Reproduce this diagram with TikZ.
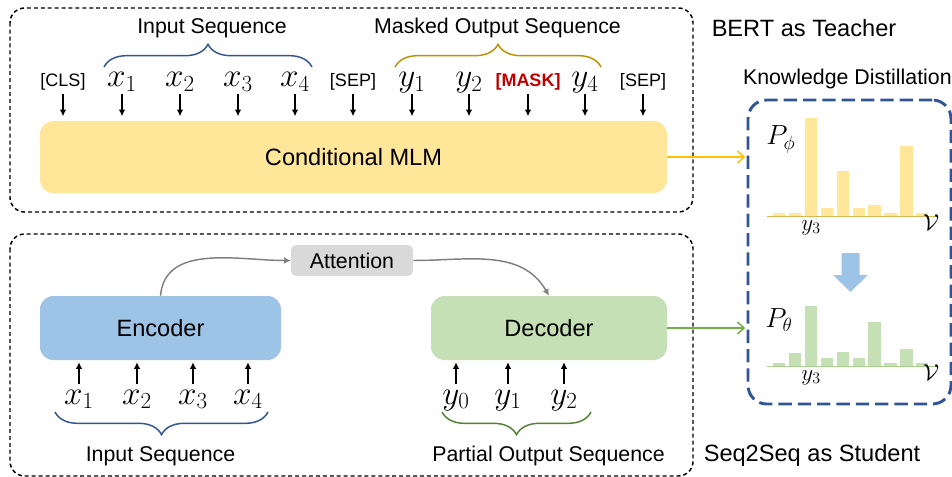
\documentclass[tikz,border=0pt]{standalone}
\usepackage{amsmath}
\usepackage[no-math]{fontspec}
\setmainfont{Liberation Sans}
\usepackage{tikz}
\usetikzlibrary{positioning, calc, arrows.meta, decorations.pathreplacing}
\definecolor{pastelyellow}{HTML}{FFE699}
\definecolor{pastelblue}{HTML}{9DC3E6}
\definecolor{pastelgreen}{HTML}{C5E0B4}
\definecolor{pastelgray}{HTML}{D9D9D9}
\definecolor{darkblue}{HTML}{2F5597}
\definecolor{darkgold}{HTML}{BF9000}
\definecolor{darkgreen}{HTML}{548235}
\definecolor{arrowyellow}{HTML}{FFC000}
\definecolor{arrowgreen}{HTML}{70AD47}
\definecolor{axisgold}{HTML}{D6B656}
\definecolor{axisgreen}{HTML}{A9D18E}
\definecolor{maskred}{HTML}{C00000}
\newcommand{\bigtxt}{\fontsize{17.7}{20}\selectfont}
\newcommand{\midtxt}{\fontsize{16}{19}\selectfont}
\newcommand{\toktxt}{\fontsize{13.5}{16}\selectfont}
\newcommand{\tokmath}[1]{\fontsize{23.5}{26}\selectfont$#1$}
\newcommand{\chartmath}[1]{\fontsize{18}{20}\selectfont$#1$}

\begin{document}
\begin{tikzpicture}[x=0.75pt, y=-0.75pt]
			\tikzstyle{frame}=[draw=black, line width=1.1pt, dash pattern=on 3pt off 2.2pt, rounded corners=11pt]
			\tikzstyle{blk}=[rounded corners=10pt, inner sep=0pt, text=black]
			\tikzstyle{lbl}=[anchor=base, inner sep=0pt]
			\tikzstyle{tokt}=[anchor=base, inner sep=0pt, text depth=5pt]
			\tikzstyle{tokb}=[anchor=base, inner sep=0pt, text height=14.5pt]
			\tikzstyle{inarrow}=[line width=0.9pt, -{Latex[length=5pt, width=5pt]}]
			\tikzstyle{attarrow}=[line width=1.1pt, draw=black!50, -{Latex[length=5pt, width=5pt]}]
			\tikzstyle{kdarrow}=[line width=1.1pt, -{Straight Barb[length=5pt, width=9pt]}]
			\tikzstyle{brc}=[line width=1.1pt, decorate, decoration={brace, amplitude=17pt}]
			%%
			\useasboundingbox (0,0) rectangle (952,477);
			%% teacher and student frames
			\draw [frame] (10,8) rectangle (693,212);
			\draw [frame] (10,234) rectangle (693,476);
			\node (teach) [lbl] at (804,36.7) {\bigtxt BERT as Teacher};
			\node (stud) [lbl] at (812,461.7) {\bigtxt Seq2Seq as Student};
			
			%% conditional MLM
			\node (mlm) [blk, fill=pastelyellow, minimum width=470.25pt, minimum height=54pt] at (353.5,157) {\bigtxt Conditional MLM};
			
			\foreach \nm/\px/\tx in {cls/63/{\toktxt[CLS]}, xa/122/{\tokmath{x_1}}, xb/180/{\tokmath{x_2}}, xc/238/{\tokmath{x_3}}, xd/295/{\tokmath{x_4}}, sepa/353/{\toktxt[SEP]}, ya/412/{\tokmath{y_1}}, yb/469/{\tokmath{y_2}}, mask/528/{\toktxt\bfseries\color{maskred}[MASK]}, yd/585/{\tokmath{y_4}}, sepb/643/{\toktxt[SEP]}}
			{
				\node (\nm) [tokt] at (\px,87) {\tx};
				\draw [inarrow] (\nm.south) -- ([yshift=3.4pt]\nm.south |- mlm.north);
			}
			
			\draw [brc, draw=darkblue] (104,67) -- (312,67);
			\draw [brc, draw=darkgold] (395,67) -- (601,67);
			\node (inseqa) [lbl] at (212,33.3) {\midtxt Input Sequence};
			\node (maskseq) [lbl] at (497.5,33.3) {\midtxt Masked Output Sequence};
			
			%% encoder / decoder
			\node (enc) [blk, fill=pastelblue, minimum width=180.75pt, minimum height=48pt] at (160.5,328) {\bigtxt Encoder};
			\node (dec) [blk, fill=pastelgreen, minimum width=177pt, minimum height=48pt] at (549,328) {\bigtxt Decoder};
			\node (att) [blk, rounded corners=4pt, fill=pastelgray, minimum width=91.5pt, minimum height=23.25pt] at (352,260.5) {\midtxt Attention};
			
			\draw [attarrow] (enc.north) to[out=85, in=180] (att.west);
			\draw [attarrow] (att.east) to[out=0, in=120] (dec.north);
			
			\foreach \nm/\px/\tx in {ea/79/x_1, eb/137/x_2, ec/193/x_3, ed/248/x_4}
			{
				\node (\nm) [tokb] at (\px,404) {\tokmath{\tx}};
				\draw [inarrow] (\nm.north) -- ([yshift=-1.5pt]\nm.north |- enc.south);
			}
			\foreach \nm/\px/\tx in {da/456/y_0, db/508/y_1, dc/564/y_2}
			{
				\node (\nm) [tokb] at (\px,404) {\tokmath{\tx}};
				\draw [inarrow] (\nm.north) -- ([yshift=-1.5pt]\nm.north |- dec.south);
			}
			
			\draw [brc, draw=darkblue] (268,412) -- (55,412);
			\draw [brc, draw=darkgreen] (591,412) -- (442,412);
			\node (inseqb) [lbl] at (160.5,461.7) {\midtxt Input Sequence};
			\node (partseq) [lbl] at (548.5,461.7) {\midtxt Partial Output Sequence};
			
			%% knowledge distillation
			\node (kd) [draw=darkblue, line width=2.2pt, dash pattern=on 10pt off 4.5pt, rounded corners=14pt, minimum width=152.25pt, minimum height=228pt, inner sep=0pt] at (849.5,252) {};
			\node (kdlbl) [anchor=base east, inner sep=0pt] at (952,85) {\midtxt Knowledge Distillation};
			
			\draw [kdarrow, draw=arrowyellow] (mlm.east) -- ([xshift=-1pt]mlm.east -| kd.west);
			\draw [kdarrow, draw=arrowgreen] (dec.east) -- ([xshift=-1pt]dec.east -| kd.west);
			
			%% teacher distribution
			\foreach \h [count=\i from 0] in {4,4,99,9,45.7,9,11.7,4,71,4}
				\fill [pastelyellow] (773+15.9*\i,216.7) rectangle ++(12.3,-\h);
			\draw [line width=0.9pt, axisgold] (767,216.7) -- (936,216.7);
			\node (pphi) [anchor=base west, inner sep=0pt] at (766,145) {\fontsize{20}{22}\selectfont$P_\phi$};
			\node (ycha) [lbl] at (811,230.5) {\chartmath{y_3}};
			\node (vcha) [lbl] at (931,230.5) {\chartmath{\mathcal{V}}};
			
			%% student distribution
			\foreach \h [count=\i from 0] in {3.7,13.7,60.7,9,14.7,9,44.7,3.7,17.7,3.7}
				\fill [pastelgreen] (773+15.9*\i,366.7) rectangle ++(12.3,-\h);
			\draw [line width=0.9pt, axisgreen] (767,366.7) -- (936,366.7);
			\node (ptheta) [anchor=base west, inner sep=0pt] at (765,327) {\fontsize{20}{22}\selectfont$P_\theta$};
			\node (ychb) [lbl] at (811,380.5) {\chartmath{y_3}};
			\node (vchb) [lbl] at (931,380.5) {\chartmath{\mathcal{V}}};
			
			%% transfer arrow
			\fill [pastelblue] (841.5,253) -- (859.5,253) -- (859.5,275) -- (868,275) -- (850.5,292) -- (833,275) -- (841.5,275) -- cycle;
\end{tikzpicture}
\end{document}
